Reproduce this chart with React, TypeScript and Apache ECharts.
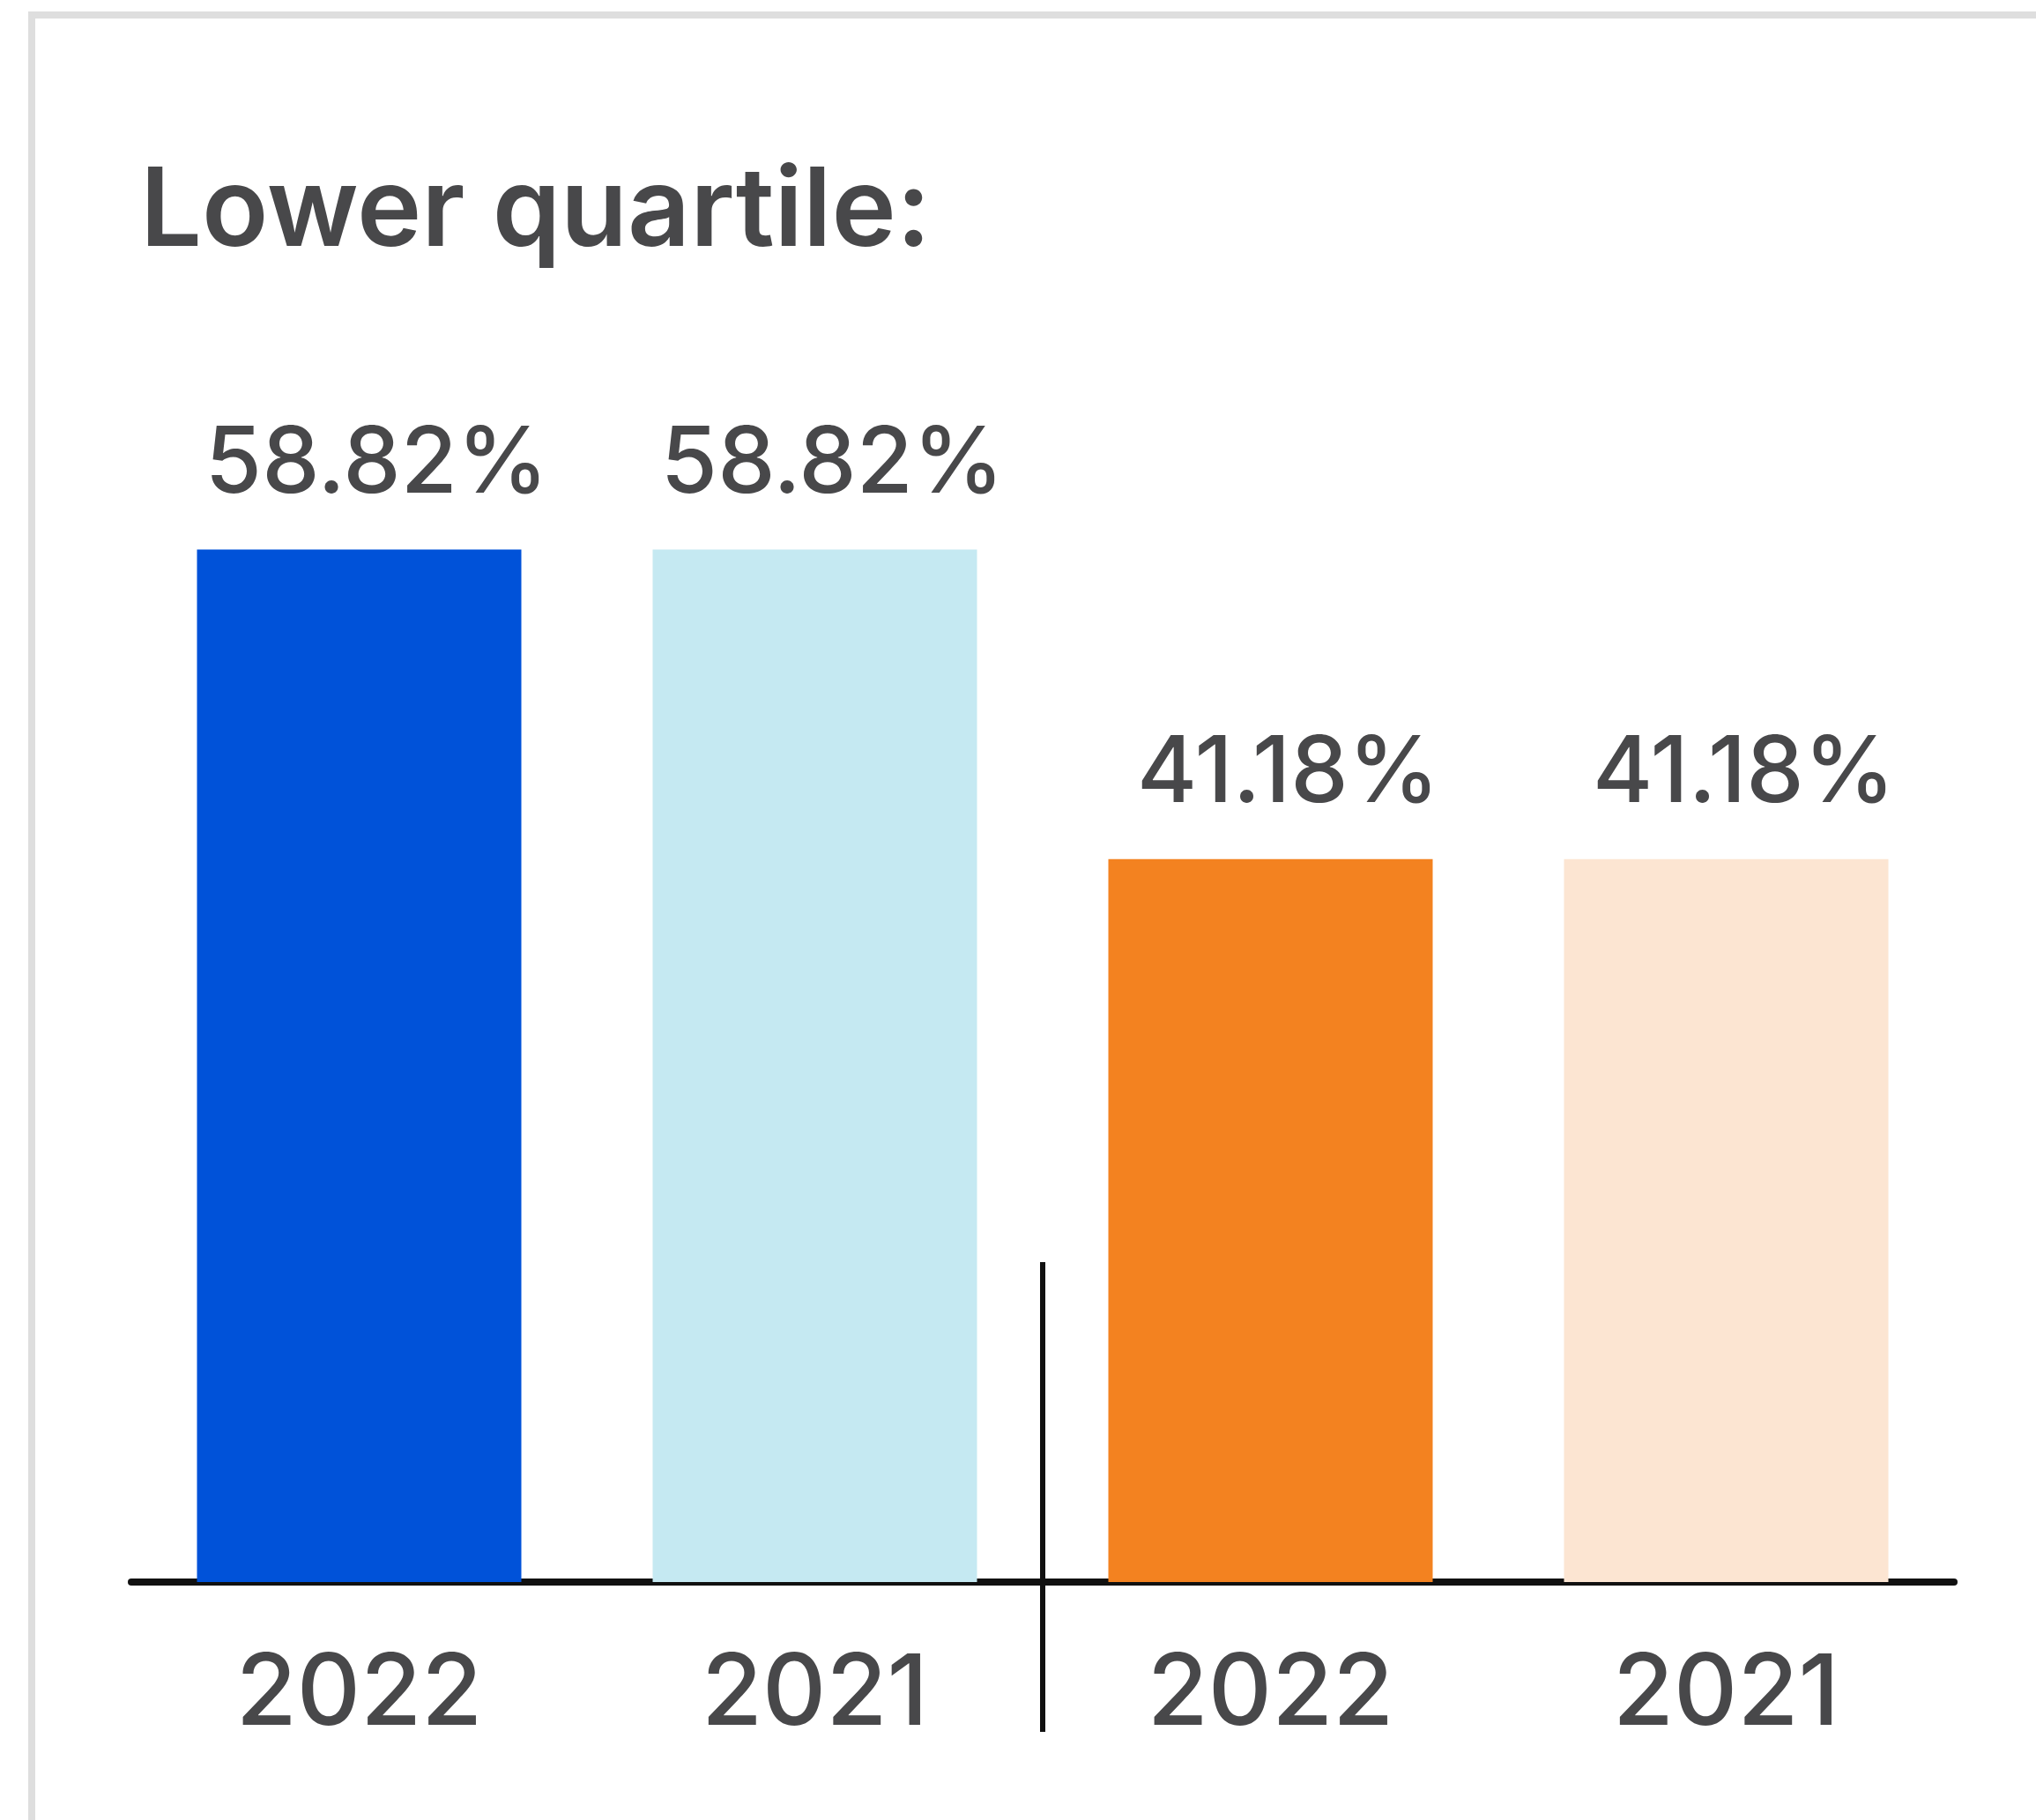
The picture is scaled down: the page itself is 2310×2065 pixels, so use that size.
import React, { useEffect, useRef } from "react";
import * as echarts from "echarts";

const titleText = "Lower quartile:";
const categories = ["2022", "2021", "2022", "2021"];
const values = [58.82, 58.82, 41.18, 41.18];
const barColors = ["#0052d9", "#c5e9f2", "#f38220", "#fce5d2"];
const yMin = 0;
const yMax = 60;

const TEXT = "#48484a";
const FONT = "Inter, 'Noto Sans', sans-serif";

export default function App() {
  const ref = useRef<HTMLDivElement | null>(null);

  useEffect(() => {
    document.body.style.margin = "0";
    if (!ref.current) return;
    const chart = echarts.init(ref.current, null, { renderer: "svg" });
    chart.setOption({
      animation: false,
      backgroundColor: "#ffffff",
      title: {
        text: titleText,
        left: 154,
        top: 167,
        textStyle: {
          fontFamily: FONT,
          fontSize: 124,
          fontWeight: 600,
          color: TEXT,
        },
      },
      grid: { left: 149, right: 93, top: 600, bottom: 270, containLabel: false },
      xAxis: {
        type: "category",
        data: categories,
        axisLine: { show: true, lineStyle: { color: "#111111", width: 8 } },
        axisTick: { show: false },
        axisLabel: {
          margin: 65,
          fontFamily: FONT,
          fontSize: 112,
          fontWeight: 500,
          color: TEXT,
        },
      },
      yAxis: {
        type: "value",
        min: yMin,
        max: yMax,
        show: false,
        splitLine: { show: false },
      },
      series: [
        {
          type: "bar",
          barWidth: 368,
          data: values.map((v, i) => ({ value: v, itemStyle: { color: barColors[i] } })),
          label: {
            show: true,
            position: "top",
            distance: 51,
            offset: [20, 0],
            formatter: (p: any) => `${p.value.toFixed(2)}%`,
            fontFamily: FONT,
            fontSize: 104,
            fontWeight: 500,
            color: TEXT,
          },
        },
      ],
      graphic: [
        {
          id: "border",
          type: "rect",
          silent: true,
          shape: { x: 36, y: 17, width: 2500, height: 2300 },
          style: { fill: "none", stroke: "#dedede", lineWidth: 8 },
        },
      ],
    });

    const p1 = chart.convertToPixel({ gridIndex: 0 }, [1, 0]) as number[];
    const p2 = chart.convertToPixel({ gridIndex: 0 }, [2, 0]) as number[];
    const xDiv = (p1[0] + p2[0]) / 2;
    chart.setOption({
      graphic: [
        {
          id: "divider",
          type: "line",
          silent: true,
          shape: { x1: xDiv, y1: 1432, x2: xDiv, y2: 1965 },
          style: { stroke: "#111111", lineWidth: 6 },
        },
      ],
    });

    return () => chart.dispose();
  }, []);

  return <div ref={ref} style={{ width: 2310, height: 2065 }} />;
}
